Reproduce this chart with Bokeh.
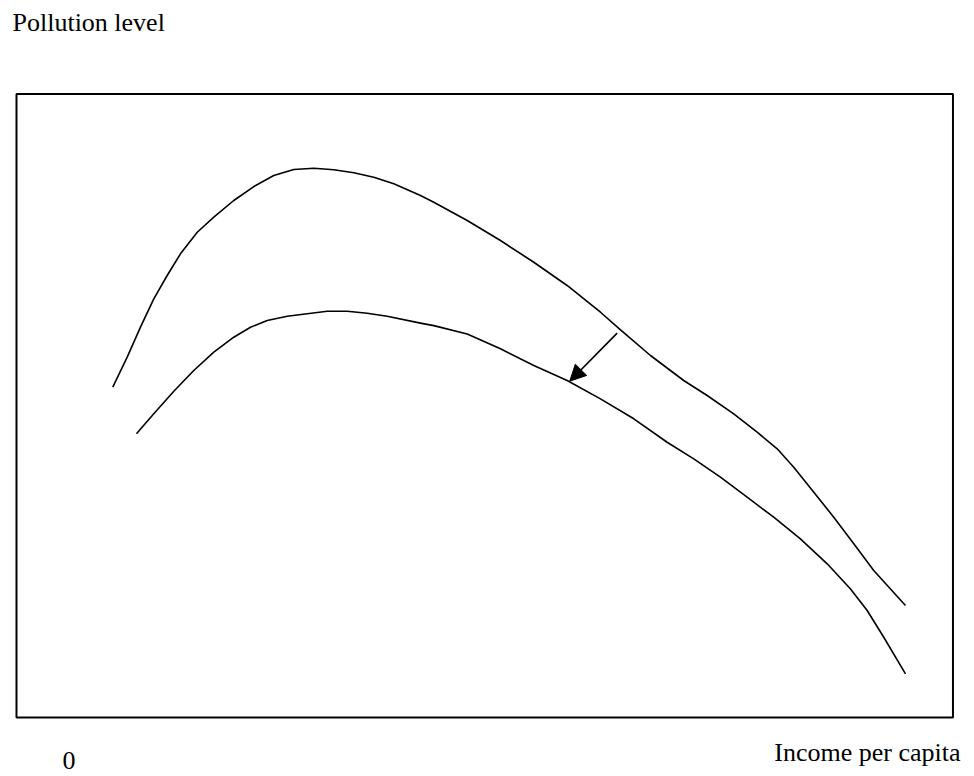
from bokeh.plotting import figure
from bokeh.models import Range1d, Label, Arrow, NormalHead
from bokeh.embed import file_html
from bokeh.resources import INLINE

# Axis extents (conceptual units: income 0-100, pollution 0-100)
X_MIN, X_MAX = 0, 100
Y_MIN, Y_MAX = 0, 100

# Upper curve (before shift)
upper_income = [10.28, 11.82, 13.24, 14.66, 16.09, 17.51, 19.30, 21.07, 23.20, 25.34,
                27.47, 29.61, 31.75, 33.88, 36.02, 38.15, 40.29, 43.14, 44.56, 48.13,
                51.68, 55.24, 58.80, 62.36, 64.50, 67.70, 71.25, 73.75, 76.59, 79.09,
                81.23, 83.00, 85.14, 87.27, 89.41, 91.54, 94.93]
upper_pollution = [52.99, 57.79, 62.60, 67.15, 70.89, 74.37, 77.83, 80.24, 82.92, 85.16,
                   86.93, 87.89, 88.10, 87.84, 87.36, 86.66, 85.60, 83.72, 82.65, 79.71,
                   76.50, 73.02, 69.29, 65.00, 62.18, 58.06, 54.05, 51.64, 48.71, 45.76,
                   43.10, 40.14, 36.13, 32.13, 27.86, 23.58, 17.96]

# Lower curve (after shift)
lower_income = [12.81, 14.66, 16.80, 18.93, 21.07, 23.20, 24.99, 26.77, 28.91, 31.04,
                33.18, 35.31, 37.45, 39.58, 43.14, 44.56, 48.13, 51.68, 55.24, 58.80,
                62.36, 65.92, 69.48, 72.32, 75.17, 78.02, 80.86, 83.71, 86.57, 89.04,
                90.84, 92.61, 94.93]
lower_pollution = [45.50, 48.71, 52.33, 55.65, 58.59, 60.99, 62.60, 63.67, 64.36, 64.75,
                   65.16, 65.16, 64.84, 64.36, 63.25, 62.85, 61.52, 59.13, 56.46, 54.05,
                   51.11, 47.91, 44.15, 41.49, 38.54, 35.33, 32.13, 28.66, 24.65, 20.64,
                   17.16, 12.88, 7.01]

# Shift arrow (from upper curve towards lower curve)
arrow_start = (64.14, 61.64)
arrow_end = (59.08, 53.94)

y_label = "Pollution level"
x_label = "Income per capita"
origin_label = "0"

W, H = 974, 776
p = figure(width=W, height=H, output_backend="svg", toolbar_location=None,
           x_range=Range1d(-1.7085, 102.3), y_range=Range1d(-9.46, 114.996),
           x_axis_location=None, y_axis_location=None, min_border=0,
           outline_line_color=None, title=None)
p.xgrid.grid_line_color = None
p.ygrid.grid_line_color = None
p.background_fill_color = "white"
p.border_fill_color = "white"

# frame box
p.quad(left=[X_MIN], right=[X_MAX], bottom=[Y_MIN], top=[Y_MAX],
       fill_color=None, line_color="black", line_width=2)

p.line(upper_income, upper_pollution, line_color="black", line_width=1.6,
       line_join="round")
p.line(lower_income, lower_pollution, line_color="black", line_width=1.6,
       line_join="round")

p.add_layout(Arrow(end=NormalHead(size=16, fill_color="black", line_color="black", line_width=1),
                   x_start=arrow_start[0], y_start=arrow_start[1],
                   x_end=arrow_end[0], y_end=arrow_end[1],
                   line_color="black", line_width=1.6))

font = "Liberation Serif"
fs = "26px"
p.add_layout(Label(x=12, y=H - 22, x_units="screen", y_units="screen", text=y_label,
                   text_font=font, text_font_size=fs, text_color="black",
                   text_baseline="alphabetic", text_align="left"))
p.add_layout(Label(x=960, y=H - 752, x_units="screen", y_units="screen", text=x_label,
                   text_font=font, text_font_size=fs, text_color="black",
                   text_baseline="alphabetic", text_align="right"))
p.add_layout(Label(x=62, y=H - 760, x_units="screen", y_units="screen", text=origin_label,
                   text_font=font, text_font_size=fs, text_color="black",
                   text_baseline="alphabetic", text_align="left"))

open("out.html", "w").write(file_html(p, INLINE))
